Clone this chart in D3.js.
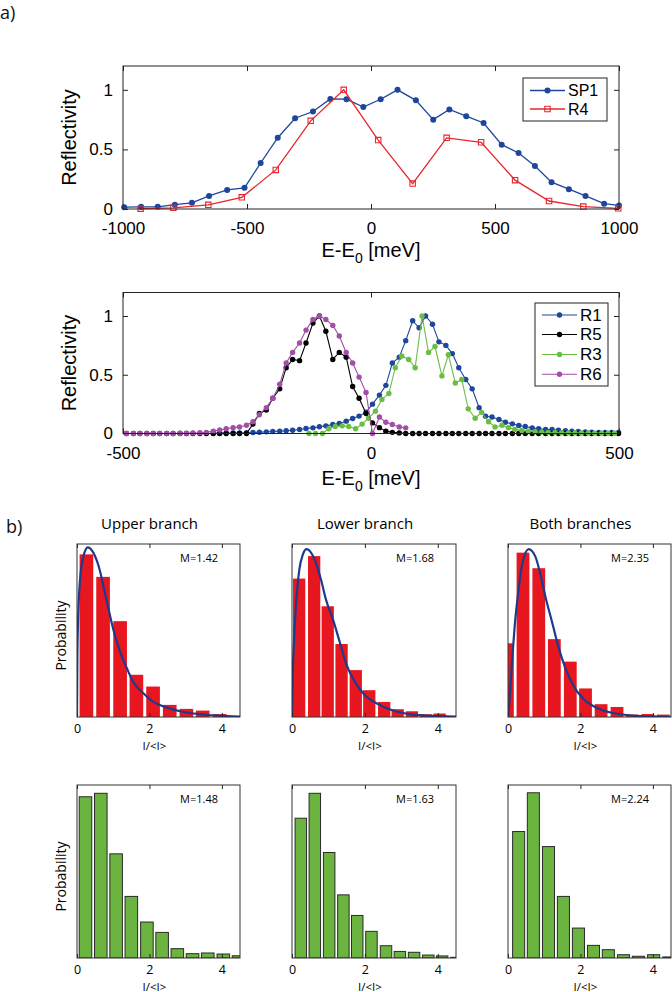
<!DOCTYPE html>
<html><head><meta charset="utf-8">
<script src="https://cdn.jsdelivr.net/npm/d3@7/dist/d3.min.js"></script>
<style>html,body{margin:0;padding:0;background:#fff;}svg{display:block;}</style>
</head><body>
<svg id="fig" width="672" height="992"></svg>
<script>
// ---------------- DATA ----------------
// Panel a) top: energy (meV) and reflectivity
const sp1E = [-995,-927,-860,-791,-722,-653,-580,-510,-445,-376,-306,-234,-164,-99,-31,39,107,181,251,316,384,454,527,595,661,728,798,865,940,1000];
const sp1R = [0.015,0.018,0.018,0.036,0.052,0.11,0.16,0.178,0.386,0.598,0.762,0.818,0.923,0.922,0.855,0.921,1.0,0.912,0.75,0.836,0.779,0.722,0.54,0.47,0.36,0.225,0.166,0.11,0.045,0.03];
const r4E = [-929,-797,-656,-521,-384,-243,-110,29,168,305,444,581,718,856,997];
const r4R = [0.003,0.01,0.035,0.098,0.328,0.74,1.0,0.578,0.213,0.597,0.56,0.242,0.067,0.02,0.006];

// Panel a) bottom
const r1E = [-318,-305,-292,-278,-265,-251,-238,-225,-211,-198,-184,-171,-158,-144,-131,-117,-104,-91,-77,-64,-50,-37,-24,-10,3,17,30,43,57,70,84,97,110,124,137,151,164,177,191,204,218,231,244,258,271,285,298,311,325,338,352,365,378,392,405,418,432,445,459,472,485,499];
const r1R = [0.003,0.003,0.004,0.004,0.005,0.006,0.009,0.011,0.014,0.017,0.02,0.023,0.028,0.034,0.043,0.048,0.057,0.065,0.077,0.085,0.105,0.128,0.148,0.182,0.25,0.327,0.41,0.6,0.65,0.79,0.96,0.90,1.0,0.93,0.78,0.75,0.68,0.56,0.46,0.38,0.22,0.147,0.141,0.119,0.096,0.082,0.068,0.059,0.048,0.04,0.034,0.034,0.028,0.023,0.02,0.017,0.014,0.011,0.01,0.009,0.008,0.008];
const r5E = [-493,-479,-466,-452,-439,-426,-412,-399,-385,-372,-359,-345,-332,-318,-305,-292,-278,-265,-251,-238,-225,-211,-198,-184,-171,-158,-144,-131,-117,-104,-91,-77,-64,-50,-37,-24,-10,3,17,30,43,57,70,84,97,110,124,137,151,164,177,191,204,218,231,244,258,271,285,298,311,325,338,352,365,378,392,405,418,432,445,459,472,485,499];
const r5R = [0,0,0,0,0,0,0,0,0,0,0,0,0,0,0,0,0,0,0,0.08,0.17,0.2,0.3,0.38,0.56,0.63,0.62,0.77,0.94,1.0,0.87,0.63,0.69,0.65,0.40,0.30,0.17,0.09,0.05,0.02,0.01,0.005,0,0,0,0,0,0,0,0,0,0,0,0,0,0,0,0,0,0,0,0,0,0,0,0,0,0,0,0,0,0,0,0,0];
const r3E = [-125,-112,-98,-85,-72,-58,-45,-31,-18,-5,9,22,36,49,62,76,89,103,116,129,143,156,170,183,196,210,223,237,250,264,277,290,304,317,331,344,357,371,384,398,411,424,438,451,465,478,491];
const r3R = [0,0,0,0.04,0.06,0.065,0.06,0.04,0.08,0.13,0.19,0.29,0.34,0.56,0.66,0.63,0.56,1.0,0.69,0.74,0.49,0.67,0.43,0.46,0.21,0.13,0.18,0.1,0.056,0.07,0.05,0.035,0.025,0.02,0.015,0.012,0.01,0.008,0.006,0.005,0.005,0.004,0.004,0.003,0.003,0.002,0.002];
const r6E = [-493,-479,-466,-452,-439,-426,-412,-399,-385,-372,-359,-345,-332,-318,-305,-292,-278,-265,-251,-238,-225,-211,-198,-184,-171,-158,-144,-131,-117,-104,-91,-77,-64,-50,-37,-24,-10,3,17,30,43,57,70];
const r6R = [0,0,0,0,0,0,0,0,0.002,0.003,0.004,0.006,0.01,0.02,0.03,0.04,0.05,0.055,0.07,0.10,0.16,0.22,0.30,0.42,0.60,0.69,0.77,0.88,0.97,1.0,0.97,0.92,0.83,0.69,0.60,0.48,0.35,0.0,0.14,0.096,0.076,0.056,0.048];

const topXTicks = [-1000,-500,0,500,1000];
const lowXTicks = [-500,0,500];
const reflTicks = [0,0.5,1];
const histTicks = [0,2,4];

// Panel b) histograms: bin centres (I/<I>) and relative probability
const upRedC = [0.26,0.72,1.19,1.64,2.10,2.56,3.02,3.47,3.94];
const upRedH = [0.94,0.81,0.554,0.244,0.176,0.07,0.047,0.037,0.017];
const loRedC = [0.197,0.608,0.98,1.36,1.75,2.12,2.53,2.90,3.29,3.67,4.05];
const loRedH = [0.80,0.93,0.64,0.422,0.271,0.155,0.087,0.045,0.033,0.016,0.02];
const boRedC = [-0.016,0.414,0.85,1.28,1.72,2.14,2.57,3.01,3.43,3.86,4.29];
const boRedH = [0.426,0.95,0.86,0.45,0.32,0.165,0.074,0.058,0.014,0.017,0.014];
const upGrnC = [0.234,0.657,1.08,1.50,1.93,2.35,2.77,3.19,3.61,4.04,4.46];
const upGrnH = [0.932,0.952,0.602,0.356,0.208,0.148,0.054,0.025,0.029,0.023,0.013];
const loGrnC = [0.242,0.626,1.02,1.41,1.79,2.18,2.58,2.96,3.35,3.74,4.12,4.51];
const loGrnH = [0.808,0.952,0.61,0.365,0.246,0.154,0.071,0.038,0.033,0.017,0.012,0.004];
const boGrnC = [0.294,0.70,1.118,1.53,1.945,2.36,2.77,3.19,3.60,4.02,4.44];
const boGrnH = [0.731,0.955,0.644,0.356,0.173,0.073,0.048,0.019,0.01,0.019,0.006];
// fitted distributions
const upFitX = [0,0.01,0.03,0.06,0.1,0.18,0.3,0.42,0.6,0.81,1.01,1.2,1.38,1.56,1.84,2.11,2.48,2.94,3.4,3.86,4.5];
const upFitY = [0,0.35,0.56,0.72,0.83,0.93,0.98,0.96,0.87,0.68,0.5,0.37,0.28,0.2,0.136,0.087,0.054,0.029,0.016,0.008,0.002];
const loFitX = [0,0.02,0.05,0.1,0.2,0.3,0.4,0.6,0.8,0.93,1.13,1.32,1.5,1.73,2.0,2.33,2.69,3.15,3.7,4.5];
const loFitY = [0,0.24,0.42,0.62,0.85,0.94,0.97,0.92,0.79,0.68,0.56,0.426,0.3,0.203,0.126,0.078,0.043,0.019,0.008,0.002];
const boFitX = [0,0.05,0.1,0.2,0.26,0.4,0.57,0.75,0.9,1.05,1.2,1.39,1.57,1.8,2.07,2.44,2.9,3.45,4.5];
const boFitY = [0,0.12,0.28,0.56,0.68,0.89,0.97,0.93,0.82,0.68,0.562,0.407,0.29,0.184,0.107,0.054,0.023,0.008,0];
const titles = ["Upper branch","Lower branch","Both branches"];
const redM = ["M=1.42","M=1.68","M=2.35"];
const grnM = ["M=1.48","M=1.63","M=2.24"];

// ---------------- DRAWING ----------------
const SANS = "'Liberation Sans', Arial, sans-serif";
const MYR = "'Open Sans', 'Noto Sans', sans-serif";
const svg = d3.select('#fig');
let clipId = 0;

function styleAxis(s, size, fam){
  s.select('.domain').remove();
  s.attr('font-size', size).attr('font-family', fam);
  s.selectAll('line').attr('stroke', '#222');
  s.selectAll('text').attr('fill', '#000');
}

function square(x, y, a){ return `M${x-a/2},${y-a/2}h${a}v${a}h${-a}Z`; }

function lineChart(o){
  const g = svg.append('g');
  const x = d3.scaleLinear().domain(o.xDomain).range([o.left, o.right]);
  const y = d3.scaleLinear().domain([0, 1.2]).range([o.bottom, o.top]);
  const fmt = d => String(d);
  g.append('g').attr('transform', `translate(0,${o.bottom})`)
    .call(d3.axisBottom(x).tickValues(o.xTicks).tickFormat(fmt).tickSizeInner(-5).tickSizeOuter(0).tickPadding(13))
    .call(s => styleAxis(s, 17, SANS));
  g.append('g').attr('transform', `translate(0,${o.top})`)
    .call(d3.axisTop(x).tickValues(o.xTicks).tickFormat('').tickSizeInner(-5).tickSizeOuter(0))
    .call(s => styleAxis(s, 17, SANS));
  g.append('g').attr('transform', `translate(${o.left},0)`)
    .call(d3.axisLeft(y).tickValues(reflTicks).tickFormat(fmt).tickSizeInner(-5).tickSizeOuter(0).tickPadding(10))
    .call(s => styleAxis(s, 17, SANS));
  g.append('g').attr('transform', `translate(${o.right},0)`)
    .call(d3.axisRight(y).tickValues(reflTicks).tickFormat('').tickSizeInner(-5).tickSizeOuter(0))
    .call(s => styleAxis(s, 17, SANS));

  const id = 'c' + (clipId++);
  g.append('clipPath').attr('id', id).append('rect')
    .attr('x', o.left - 4).attr('y', o.top).attr('width', o.right - o.left + 8).attr('height', o.bottom - o.top + 4);
  const pg = g.append('g').attr('clip-path', `url(#${id})`);
  o.series.forEach(s => {
    const pts = d3.zip(s.e, s.r);
    pg.append('path').datum(pts)
      .attr('d', d3.line().x(d => x(d[0])).y(d => y(d[1])))
      .attr('fill', 'none').attr('stroke', s.color).attr('stroke-width', o.lw);
    if (s.marker === 'square') {
      pg.selectAll(null).data(pts).join('path')
        .attr('d', d => square(x(d[0]), y(d[1]), 5.4))
        .attr('fill', 'none').attr('stroke', s.color).attr('stroke-width', 1.1);
    } else {
      pg.selectAll(null).data(pts).join('circle')
        .attr('cx', d => x(d[0])).attr('cy', d => y(d[1])).attr('r', o.r)
        .attr('fill', s.color);
    }
  });
  g.append('rect').attr('x', o.left).attr('y', o.top)
    .attr('width', o.right - o.left).attr('height', o.bottom - o.top)
    .attr('fill', 'none').attr('stroke', '#222').attr('stroke-width', 1);

  // labels
  const xl = g.append('text').attr('x', (o.left + o.right) / 2).attr('y', o.xlabelY)
    .attr('text-anchor', 'middle').attr('font-family', SANS).attr('font-size', 20).attr('fill', '#000');
  xl.append('tspan').text('E-E');
  xl.append('tspan').attr('dy', 6).attr('font-size', 14).text('0');
  xl.append('tspan').attr('dy', -6).text(' [meV]');
  g.append('text').attr('transform', `translate(76,${(o.top + o.bottom) / 2}) rotate(-90)`)
    .attr('text-anchor', 'middle').attr('font-family', SANS).attr('font-size', 20).attr('fill', '#000')
    .text('Reflectivity');

  // legend
  const L = o.legend;
  g.append('rect').attr('x', L.x0).attr('y', L.y0).attr('width', L.x1 - L.x0).attr('height', L.y1 - L.y0)
    .attr('fill', '#fff').attr('stroke', '#222').attr('stroke-width', 1);
  o.series.forEach((s, i) => {
    const yy = L.rows[i];
    g.append('line').attr('x1', L.lineX[0]).attr('x2', L.lineX[1]).attr('y1', yy).attr('y2', yy)
      .attr('stroke', s.color).attr('stroke-width', o.lw);
    const mx = (L.lineX[0] + L.lineX[1]) / 2;
    if (s.marker === 'square') {
      g.append('path').attr('d', square(mx, yy, 5.4)).attr('fill', 'none').attr('stroke', s.color).attr('stroke-width', 1.1);
    } else {
      g.append('circle').attr('cx', mx).attr('cy', yy).attr('r', o.r).attr('fill', s.color);
    }
    g.append('text').attr('x', L.textX).attr('y', yy + 5.7).attr('font-family', SANS).attr('font-size', L.fs)
      .attr('fill', '#000').text(s.name);
  });
}

const BLUE = '#1d469c', RED = '#e8262c', GREEN = '#6abd45', PURPLE = '#a24ea6';

lineChart({
  left: 123, right: 619, top: 66, bottom: 209, xDomain: [-1000, 1000], xTicks: topXTicks,
  xlabelY: 257, lw: 1.3, r: 3,
  legend: {x0: 523, y0: 78, x1: 607, y1: 121, rows: [90.5, 109], lineX: [530, 565], textX: 568, fs: 16},
  series: [
    {name: 'SP1', e: sp1E, r: sp1R, color: BLUE, marker: 'circle'},
    {name: 'R4', e: r4E, r: r4R, color: RED, marker: 'square'}
  ]
});
lineChart({
  left: 123, right: 619, top: 292.5, bottom: 433.5, xDomain: [-500, 500], xTicks: lowXTicks,
  xlabelY: 485, lw: 1.1, r: 2.7,
  legend: {x0: 535, y0: 303, x1: 608, y1: 386, rows: [315, 334.5, 354.5, 374.3], lineX: [542, 577], textX: 580, fs: 17},
  series: [
    {name: 'R1', e: r1E, r: r1R, color: BLUE, marker: 'circle'},
    {name: 'R5', e: r5E, r: r5R, color: '#000', marker: 'circle'},
    {name: 'R3', e: r3E, r: r3R, color: GREEN, marker: 'circle'},
    {name: 'R6', e: r6E, r: r6R, color: PURPLE, marker: 'circle'}
  ]
});

// panel letters
svg.append('text').attr('x', 0).attr('y', 19).attr('font-family', MYR).attr('font-size', 18).attr('fill', '#111').text('a)');
svg.append('text').attr('x', 6).attr('y', 533).attr('font-family', MYR).attr('font-size', 18).attr('fill', '#111').text('b)');

function hist(o){
  const g = svg.append('g');
  const x = d3.scaleLinear().domain([0, 4.5]).range([o.x0, o.x1]);
  const y = d3.scaleLinear().domain([0, 1]).range([o.y1, o.y0]);
  const id = 'c' + (clipId++);
  g.append('clipPath').attr('id', id).append('rect')
    .attr('x', o.x0).attr('y', o.y0).attr('width', o.x1 - o.x0).attr('height', o.y1 - o.y0);
  const pg = g.append('g').attr('clip-path', `url(#${id})`);
  const step = o.c[1] - o.c[0];
  const w = step * 0.82;
  pg.selectAll(null).data(d3.zip(o.c, o.h)).join('rect')
    .attr('x', d => x(d[0] - w / 2)).attr('width', x(w) - x(0))
    .attr('y', d => y(d[1])).attr('height', d => o.y1 - y(d[1]))
    .attr('fill', o.fill).attr('stroke', o.stroke || 'none').attr('stroke-width', o.stroke ? 1 : 0);
  g.append('g').attr('transform', `translate(0,${o.y1})`)
    .call(d3.axisBottom(x).tickValues(histTicks).tickFormat(d => String(d)).tickSizeInner(-4).tickSizeOuter(0).tickPadding(7))
    .call(s => styleAxis(s, 12.5, MYR));
  g.append('g').attr('transform', `translate(0,${o.y0})`)
    .call(d3.axisTop(x).tickValues(histTicks).tickFormat('').tickSizeInner(-4).tickSizeOuter(0))
    .call(s => styleAxis(s, 12.5, MYR));
  g.append('rect').attr('x', o.x0).attr('y', o.y0).attr('width', o.x1 - o.x0).attr('height', o.y1 - o.y0)
    .attr('fill', 'none').attr('stroke', '#333').attr('stroke-width', 1);
  if (o.fx) {
    pg.append('path').datum(d3.zip(o.fx, o.fy))
      .attr('d', d3.line().curve(d3.curveMonotoneX).x(d => x(d[0])).y(d => y(d[1])))
      .attr('fill', 'none').attr('stroke', '#1e3a8c').attr('stroke-width', 2.2);
  }
  g.append('text').attr('x', o.x1 - 22).attr('y', o.y0 + 18).attr('text-anchor', 'end')
    .attr('font-family', MYR).attr('font-size', 11).attr('fill', '#000').text(o.m);
  g.append('text').attr('x', (o.x0 + o.x1) / 2 - 4).attr('y', o.y1 + 32.5).attr('text-anchor', 'middle')
    .attr('font-family', MYR).attr('font-size', 11.5).attr('fill', '#000').text('I/<I>');
  if (o.title) {
    g.append('text').attr('x', (o.x0 + o.x1) / 2 - 9).attr('y', o.y0 - 15).attr('text-anchor', 'middle')
      .attr('font-family', MYR).attr('font-size', 15).attr('fill', '#000').text(o.title);
  }
  if (o.ylabel) {
    g.append('text').attr('transform', `translate(66,${(o.y0 + o.y1) / 2 + 5}) rotate(-90)`)
      .attr('text-anchor', 'middle').attr('font-family', MYR).attr('font-size', 14).attr('fill', '#000')
      .text('Probability');
  }
}

const cols = [{x0: 77, x1: 240}, {x0: 292, x1: 456}, {x0: 508, x1: 671}];
const redC = [upRedC, loRedC, boRedC], redH = [upRedH, loRedH, boRedH];
const grnC = [upGrnC, loGrnC, boGrnC], grnH = [upGrnH, loGrnH, boGrnH];
const fitX = [upFitX, loFitX, boFitX], fitY = [upFitY, loFitY, boFitY];
cols.forEach((c, i) => {
  hist({x0: c.x0, x1: c.x1, y0: 544, y1: 717, c: redC[i], h: redH[i], fill: '#e8161e',
        fx: fitX[i], fy: fitY[i], m: redM[i], title: titles[i], ylabel: i === 0});
  hist({x0: c.x0, x1: c.x1, y0: 785, y1: 958, c: grnC[i], h: grnH[i], fill: '#6ab43f', stroke: '#2a2a2a',
        m: grnM[i], ylabel: i === 0});
});
</script>
</body></html>
